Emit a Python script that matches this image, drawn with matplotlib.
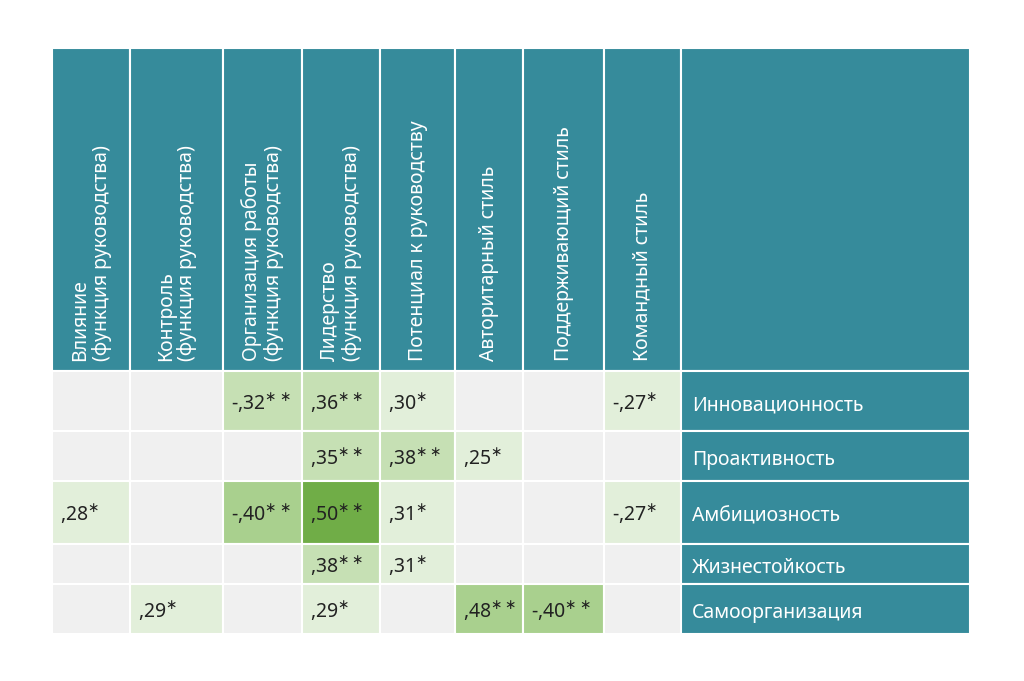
import matplotlib
matplotlib.use("Agg")
import matplotlib.pyplot as plt
from matplotlib.patches import Rectangle

columns = ["Влияние\n(функция руководства)", "Контроль\n(функция руководства)",
           "Организация работы\n(функция руководства)", "Лидерство\n(функция руководства)",
           "Потенциал к руководству", "Авторитарный стиль", "Поддерживающий стиль", "Командный стиль"]
rows = ["Инновационность", "Проактивность", "Амбициозность", "Жизнестойкость", "Самоорганизация"]
values = [
    [None, None, -0.32, 0.36, 0.30, None, None, -0.27],
    [None, None, None, 0.35, 0.38, 0.25, None, None],
    [0.28, None, -0.40, 0.50, 0.31, None, None, -0.27],
    [None, None, None, 0.38, 0.31, None, None, None],
    [None, 0.29, None, 0.29, None, 0.48, -0.40, None],
]
stars = [
    ["", "", "**", "**", "*", "", "", "*"],
    ["", "", "", "**", "**", "*", "", ""],
    ["*", "", "**", "**", "*", "", "", "*"],
    ["", "", "", "**", "*", "", "", ""],
    ["", "*", "", "*", "", "**", "**", ""],
]

xb = [52, 130, 223, 302, 380, 455, 523, 604, 681, 970]
yb = [48, 371, 431, 481, 544, 584, 634]
TEAL = "#368b9b"
EMPTY = "#f0f0f0"

def color(v):
    a = abs(v)
    if a >= 0.5: return "#70ad47"
    if a >= 0.40: return "#a9d08e"
    if a >= 0.32: return "#c6e0b4"
    return "#e2efda"

fig = plt.figure(figsize=(10.24, 6.81), dpi=100)
ax = fig.add_axes([0, 0, 1, 1])
ax.set_xlim(0, 1024); ax.set_ylim(681, 0); ax.axis("off")

def rect(x0, y0, x1, y1, c):
    ax.add_patch(Rectangle((x0, y0), x1 - x0, y1 - y0, facecolor=c, edgecolor="white", lw=1.5))

for j, name in enumerate(columns):
    rect(xb[j], yb[0], xb[j+1], yb[1], TEAL)
    ax.text((xb[j] + xb[j+1]) / 2, yb[1] - 10, name, rotation=90, ha="center", va="bottom",
            color="white", fontsize=14, family="Noto Sans", multialignment="left", linespacing=1.1)
rect(xb[8], yb[0], xb[9], yb[1], TEAL)

for i, rname in enumerate(rows):
    y0, y1 = yb[i+1], yb[i+2]
    cy = (y0 + y1) / 2
    for j in range(8):
        v = values[i][j]
        rect(xb[j], y0, xb[j+1], y1, EMPTY if v is None else color(v))
        if v is not None:
            s = ("-" if v < 0 else "") + "," + f"{abs(v):.2f}"[2:]
            ax.text(xb[j] + 8, cy + 2, s + "$^{" + stars[i][j].replace("*", r"\ast") + "}$",
                    ha="left", va="center", fontsize=14, color="#222222", family="Noto Sans")
    rect(xb[8], y0, xb[9], y1, TEAL)
    ax.text(xb[8] + 11, cy + 4, rname, ha="left", va="center", fontsize=14,
            color="white", family="Noto Sans")

fig.savefig("out.png", dpi=100, facecolor="white")
